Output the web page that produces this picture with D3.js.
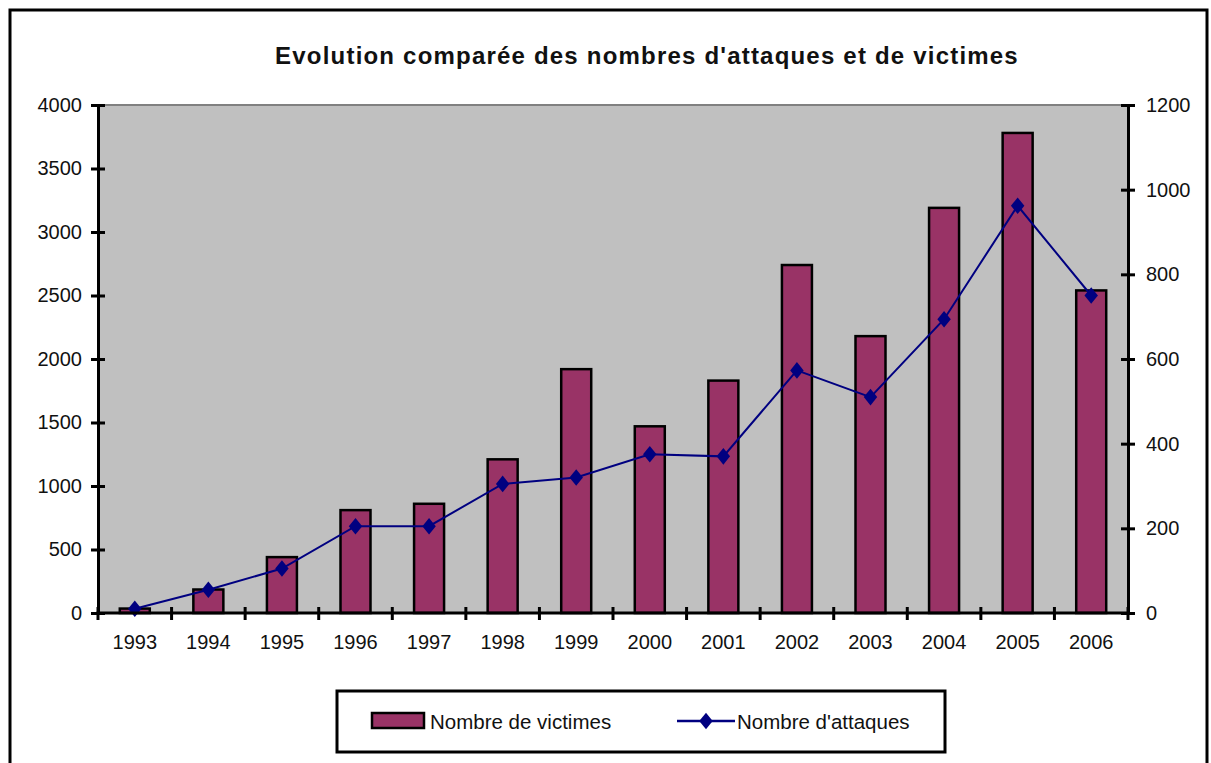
<!DOCTYPE html>
<html>
<head>
<meta charset="utf-8">
<script src="https://cdn.jsdelivr.net/npm/d3@7"></script>
<style>
  body { margin: 0; background: #fff; }
  text { font-family: "Liberation Sans", Arial, sans-serif; fill: #111; }
</style>
</head>
<body>
<svg width="1211" height="763"></svg>
<script>
// data
var years = ["1993","1994","1995","1996","1997","1998","1999","2000","2001","2002","2003","2004","2005","2006"];
var victimes = [35, 185, 440, 810, 860, 1210, 1920, 1470, 1830, 2740, 2180, 3190, 3780, 2540];
var attaques = [10, 55, 105, 205, 205, 305, 320, 375, 370, 573, 510, 694, 962, 750];
var leftTicks = [0, 500, 1000, 1500, 2000, 2500, 3000, 3500, 4000];
var rightTicks = [0, 200, 400, 600, 800, 1000, 1200];

var svg = d3.select("svg"),
    plotL = 98, plotR = 1128, plotT = 105, plotB = 613;

// outer frame
svg.append("rect")
    .attr("x", 10).attr("y", 10)
    .attr("width", 1197).attr("height", 790)
    .style("fill", "none").style("stroke", "#000").style("stroke-width", 3);

svg.append("text")
    .attr("x", 647).attr("y", 64)
    .style("text-anchor", "middle")
    .style("font-weight", "bold")
    .style("font-size", "24px")
    .style("letter-spacing", "1.2px")
    .text("Evolution comparée des nombres d'attaques et de victimes");

var xb = d3.scaleBand().domain(years).range([plotL, plotR]);
var yL = d3.scaleLinear().domain([0, 4000]).range([plotB, plotT]);
var yR = d3.scaleLinear().domain([0, 1200]).range([plotB, plotT]);

// plot area
svg.append("rect")
    .attr("x", plotL).attr("y", plotT)
    .attr("width", plotR - plotL).attr("height", plotB - plotT)
    .style("fill", "#c0c0c0");
svg.append("line")
    .attr("x1", plotL).attr("x2", plotR).attr("y1", plotT).attr("y2", plotT)
    .style("stroke", "#808080").style("stroke-width", 2);

// bars
svg.append("g").selectAll("rect")
    .data(years)
    .enter().append("rect")
    .attr("x", function(d) { return xb(d) + (xb.bandwidth() - 30) / 2; })
    .attr("width", 30)
    .attr("y", function(d, i) { return yL(victimes[i]); })
    .attr("height", function(d, i) { return plotB - yL(victimes[i]); })
    .style("fill", "#993366")
    .style("stroke", "#000")
    .style("stroke-width", 2.5);

// line
var line = d3.line()
    .x(function(d, i) { return xb(years[i]) + xb.bandwidth() / 2; })
    .y(function(d) { return yR(d); });

svg.append("path")
    .datum(attaques)
    .attr("d", line)
    .style("fill", "none")
    .style("stroke", "#000080")
    .style("stroke-width", 2);

var diamond = d3.symbol().type(d3.symbolDiamond).size(80);
svg.append("g").selectAll("path")
    .data(attaques)
    .enter().append("path")
    .attr("d", diamond)
    .attr("transform", function(d, i) {
        return "translate(" + (xb(years[i]) + xb.bandwidth() / 2) + "," + yR(d) + ") scale(1.4,1)";
    })
    .style("fill", "#000080");

// axes
function styleAxis(g) {
    g.select(".domain").style("stroke", "#000").style("stroke-width", 3);
    g.selectAll(".tick line").style("stroke", "#000").style("stroke-width", 3);
    g.selectAll(".tick text").style("font-size", "20px").style("fill", "#111");
}

var gl = svg.append("g")
    .attr("transform", "translate(" + plotL + ",0)")
    .call(d3.axisLeft(yL).tickValues(leftTicks).tickFormat(d3.format("d"))
        .tickSizeOuter(0).tickSizeInner(7).tickPadding(9));
gl.selectAll(".tick line").attr("x1", 7);
styleAxis(gl);

var gr = svg.append("g")
    .attr("transform", "translate(" + plotR + ",0)")
    .call(d3.axisRight(yR).tickValues(rightTicks).tickFormat(d3.format("d"))
        .tickSizeOuter(0).tickSizeInner(7).tickPadding(11));
gr.selectAll(".tick line").attr("x1", -7);
styleAxis(gr);

var gb = svg.append("g")
    .attr("transform", "translate(0," + plotB + ")")
    .call(d3.axisBottom(xb).tickSize(0).tickSizeOuter(0).tickPadding(22));
styleAxis(gb);
gb.select(".domain").attr("d", "M" + (plotL - 1.5) + ",0H" + (plotR + 1.5));
// category boundary ticks
gb.selectAll("line.sep")
    .data(years.concat(["end"]))
    .enter().append("line")
    .attr("class", "sep")
    .attr("x1", function(d, i) { return plotL + i * xb.step(); })
    .attr("x2", function(d, i) { return plotL + i * xb.step(); })
    .attr("y1", -6).attr("y2", 7)
    .style("stroke", "#000").style("stroke-width", 3);

// legend
var lg = svg.append("g");
lg.append("rect")
    .attr("x", 337).attr("y", 691).attr("width", 608).attr("height", 61)
    .style("fill", "#fff").style("stroke", "#000").style("stroke-width", 3);
lg.append("rect")
    .attr("x", 372).attr("y", 713).attr("width", 52).attr("height", 15)
    .style("fill", "#993366").style("stroke", "#000").style("stroke-width", 2.5);
lg.append("text")
    .attr("x", 430).attr("y", 729)
    .style("font-size", "20.5px")
    .text("Nombre de victimes");
lg.append("line")
    .attr("x1", 677).attr("x2", 735).attr("y1", 721).attr("y2", 721)
    .style("stroke", "#000080").style("stroke-width", 2.5);
lg.append("path")
    .attr("d", diamond)
    .attr("transform", "translate(706,721) scale(1.4,1)")
    .style("fill", "#000080");
lg.append("text")
    .attr("x", 737).attr("y", 729)
    .style("font-size", "20.5px")
    .text("Nombre d'attaques");
</script>
</body>
</html>
